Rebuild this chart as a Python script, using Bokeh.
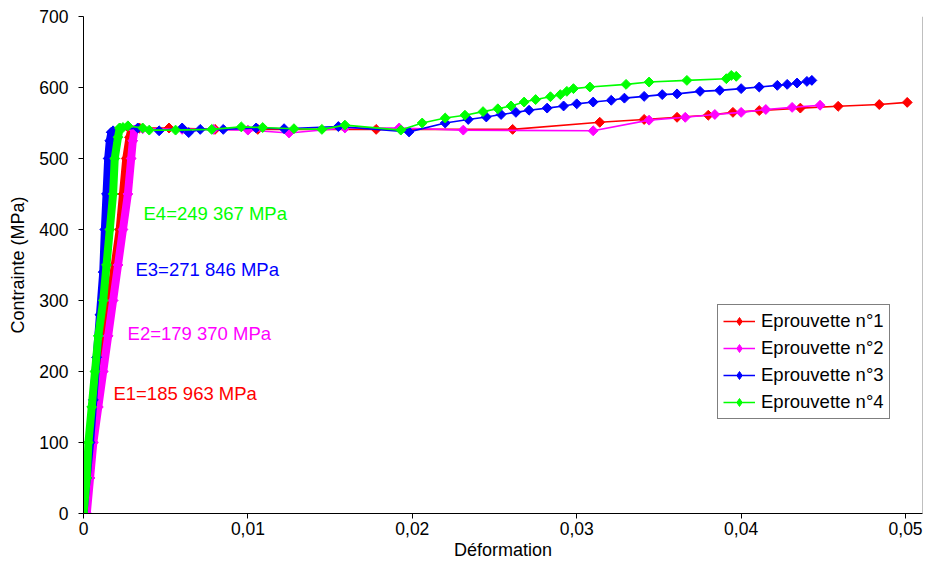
from bokeh.plotting import figure
from bokeh.models import Range1d, FixedTicker, CustomJSTickFormatter, Legend, LegendItem, Span, Label
from bokeh.embed import file_html
from bokeh.resources import INLINE

# ---------------- data ----------------
# Eprouvette n°1 (red)
e1_el_strain = [0.0001, 0.0003, 0.0005, 0.0008, 0.0010, 0.0013, 0.0016, 0.0019, 0.0022, 0.0024, 0.0026, 0.0028, 0.0029]
e1_el_stress = [0, 50, 100, 150, 200, 250, 300, 350, 400, 450, 500, 530, 540]
e1_strain = [0.0029, 0.0034, 0.0052, 0.0080, 0.0106, 0.0178, 0.0261, 0.0314, 0.0341, 0.0361, 0.0380,
             0.0395, 0.0411, 0.0436, 0.0459, 0.0484, 0.0501]
e1_stress = [540, 543, 543, 541, 541, 541, 541, 551, 555, 558, 561, 565, 567.5, 571, 573.5, 576, 579]

# Eprouvette n°2 (magenta)
e2_el_strain = [0.0002, 0.0004, 0.0006, 0.0009, 0.0012, 0.0015, 0.0018, 0.0021, 0.0024, 0.0027, 0.0029, 0.0030, 0.0031]
e2_el_stress = [0, 50, 100, 150, 200, 250, 300, 350, 400, 450, 500, 525, 540]
e2_strain = [0.0031, 0.0036, 0.0060, 0.0079, 0.0100, 0.0125, 0.0159, 0.0192, 0.0231, 0.0310, 0.0344,
             0.0366, 0.0384, 0.0400, 0.0415, 0.0431, 0.0448]
e2_stress = [540, 542, 541, 541, 540, 536, 543, 543, 540, 539, 554, 558, 562, 565, 569, 572, 575]

# Eprouvette n°3 (blue)
e3_el_strain = [0.0000, 0.0002, 0.0004, 0.0006, 0.0008, 0.0010, 0.0012, 0.0013, 0.0014, 0.0015, 0.0016, 0.0017]
e3_el_stress = [0, 50, 100, 160, 220, 280, 340, 400, 450, 500, 525, 537]
e3_strain = [0.0017, 0.0018, 0.0033, 0.0046, 0.0060, 0.0064, 0.0071, 0.0085, 0.0105, 0.0122, 0.0155,
             0.0198, 0.0220, 0.0234, 0.0245, 0.0254, 0.0263, 0.0271, 0.0282, 0.0292, 0.0300, 0.0310,
             0.0321, 0.0329, 0.0341, 0.0352, 0.0361, 0.0375, 0.0387, 0.0400, 0.0411, 0.0422, 0.0428,
             0.0434, 0.0440, 0.0443]
e3_stress = [537, 539, 543, 539, 543, 536.5, 541, 541, 543, 542, 545,
             537.5, 550, 555, 558.5, 562, 565, 568, 571, 574, 577, 579.5,
             582, 585, 587.5, 590, 591, 594.6, 596, 598.4, 600.7, 603, 604.4,
             606.3, 608.6, 610]

# Eprouvette n°4 (green)
e4_el_strain = [0.0000, 0.0002, 0.0003, 0.0005, 0.0007, 0.0009, 0.0012, 0.0014, 0.0016, 0.0018, 0.0019, 0.0021, 0.0022]
e4_el_stress = [0, 50, 100, 150, 200, 250, 300, 350, 400, 450, 500, 530, 543]
e4_strain = [0.0022, 0.0024, 0.0027, 0.0036, 0.0040, 0.0056, 0.0078, 0.0096, 0.0109, 0.0128, 0.0145,
             0.0159, 0.0193, 0.0206, 0.0220, 0.0232, 0.0243, 0.0252, 0.0260, 0.0268, 0.0275, 0.0284,
             0.0290, 0.0294, 0.0298, 0.0308, 0.0330, 0.0344, 0.0367, 0.0391, 0.0394, 0.0397]
e4_stress = [543, 543.6, 546, 543, 540, 540, 541, 544.5, 543.6, 542, 541,
             547, 540, 550, 557, 561, 566, 570, 574, 579.5, 583, 587,
             590, 594.6, 598.4, 600.7, 604.4, 607.7, 610, 612.4, 617, 615.7]

series_names = ["Eprouvette n°1", "Eprouvette n°2", "Eprouvette n°3", "Eprouvette n°4"]
series_colors = ["#FF0000", "#FF00FF", "#0000FF", "#00FF00"]

modulus_texts = ["E1=185 963 MPa", "E2=179 370 MPa", "E3=271 846 MPa", "E4=249 367 MPa"]
modulus_text_x = [0.00182, 0.00268, 0.00316, 0.00365]
modulus_text_y = [169, 254, 343, 423]

x_ticks = [0, 0.01, 0.02, 0.03, 0.04, 0.05]
y_ticks = [0, 100, 200, 300, 400, 500, 600, 700]

FONT = "Liberation Sans"
X_END = 0.05103

p = figure(width=924, height=562, output_backend="svg", toolbar_location=None,
           x_range=Range1d(0, X_END), y_range=Range1d(0, 700),
           min_border_left=83, min_border_right=2, min_border_top=16, min_border_bottom=48)
p.outline_line_color = None
p.grid.visible = False
p.background_fill_color = "white"
p.border_fill_color = "white"

for ax in (p.xaxis[0], p.yaxis[0]):
    ax.axis_line_color = "black"
    ax.axis_line_width = 1
    ax.major_tick_line_color = "black"
    ax.major_tick_out = 5
    ax.major_tick_in = 0
    ax.minor_tick_line_color = None
    ax.major_label_text_font = FONT
    ax.major_label_text_font_size = "17.5px"
    ax.major_label_text_color = "black"
    ax.axis_label_text_font = FONT
    ax.axis_label_text_font_size = "18px"
    ax.axis_label_text_font_style = "normal"
    ax.axis_label_text_color = "black"

p.xaxis.ticker = FixedTicker(ticks=x_ticks)
p.yaxis.ticker = FixedTicker(ticks=y_ticks)
p.xaxis.formatter = CustomJSTickFormatter(code="return tick == 0 ? '0' : tick.toFixed(2).replace('.', ',');")
p.xaxis.axis_label = "Déformation"
p.yaxis.axis_label = "Contrainte (MPa)"
p.xaxis.axis_label_standoff = 2
p.yaxis.axis_label_standoff = 8
p.xaxis.major_label_standoff = 3
p.yaxis.major_label_standoff = 10

# right frame edge
p.add_layout(Span(location=X_END, dimension="height", line_color="#808080", line_width=1))

all_el = [(e1_el_strain, e1_el_stress), (e2_el_strain, e2_el_stress),
          (e3_el_strain, e3_el_stress), (e4_el_strain, e4_el_stress)]
all_pl = [(e1_strain, e1_stress), (e2_strain, e2_stress),
          (e3_strain, e3_stress), (e4_strain, e4_stress)]

legend_items = []
for (exs, eys), (xs, ys), name, col in zip(all_el, all_pl, series_names, series_colors):
    p.line(exs, eys, line_color=col, line_width=8)
    p.scatter(exs, eys, marker="square", angle=0.785398, size=7, fill_color=col, line_color=col)
    ln = p.line(xs, ys, line_color=col, line_width=1.6)
    p.scatter(xs, ys, marker="square", angle=0.785398, size=7, fill_color=col, line_color=col)
    # diamond glyph on the last measured point (hidden under its marker), used for the legend
    lg = p.scatter(xs[-1:], ys[-1:], marker="diamond", size=9, fill_color=col, line_color=col)
    legend_items.append(LegendItem(label=name, renderers=[ln, lg]))

for t, tx, ty, col in zip(modulus_texts, modulus_text_x, modulus_text_y, series_colors):
    p.add_layout(Label(x=tx, y=ty, text=t, text_color=col, text_font=FONT, text_font_size="18.5px",
                       text_baseline="middle", text_align="left"))

legend = Legend(items=legend_items, location=(634, 94))
legend.label_text_font = FONT
legend.label_text_font_size = "18.5px"
legend.label_text_color = "black"
legend.border_line_color = "black"
legend.border_line_width = 1
legend.background_fill_color = "white"
legend.background_fill_alpha = 1
legend.glyph_width = 32
legend.glyph_height = 20
legend.label_height = 20
legend.spacing = 5
legend.padding = 5
legend.margin = 0
legend.label_standoff = 6
p.add_layout(legend, "center")

open("out.html", "w").write(file_html(p, INLINE))
